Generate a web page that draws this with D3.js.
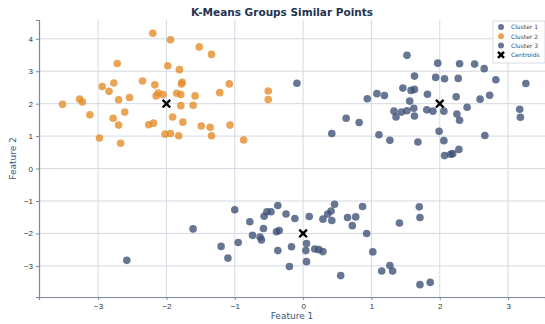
<!DOCTYPE html>
<html>
<head>
<meta charset="utf-8">
<script src="https://cdn.jsdelivr.net/npm/d3@7"></script>
<style>
  body { margin: 0; background: #fff; }
  svg { display: block; font-family: "DejaVu Sans", sans-serif; }
</style>
</head>
<body>
<div id="chart"></div>
<script>
// cluster points
var cluster1X = [-2.58, -1.61, -1.00, -1.20, -1.10, -0.95, -0.78, -0.74, -0.63, -0.61, -0.58, -0.57, -0.53, -0.47, -0.37, -0.25, -0.12, 0.09, -0.39, -0.35, -0.37, -0.17, -0.20, 0.05, 0.04, 0.05, 0.17, 0.23, 0.29, 0.29, 0.36, 0.41, 0.42, 0.46, 0.65, 0.77, 0.72, 0.87, 0.93, 1.02, 0.55, 1.15, 1.27, 1.31, 1.41, 1.70, 1.71, 1.71, 1.86];
var cluster1Y = [-2.83, -1.86, -1.27, -2.40, -2.76, -2.28, -1.64, -2.06, -2.11, -2.20, -1.85, -1.47, -1.33, -1.33, -1.14, -1.40, -1.54, -1.48, -1.95, -1.91, -2.53, -2.41, -3.02, -2.31, -2.53, -2.87, -2.48, -2.50, -2.56, -1.56, -1.40, -1.31, -1.60, -1.10, -1.51, -1.49, -1.76, -1.17, -2.00, -2.57, -3.30, -3.16, -2.99, -3.16, -1.68, -1.18, -1.51, -3.58, -3.51];

var cluster2X = [-2.20, -1.94, -1.52, -1.34, -2.72, -1.98, -1.81, -2.35, -1.77, -1.78, -2.77, -2.94, -2.17, -1.08, -2.84, -2.12, -2.05, -2.15, -1.85, -1.79, -1.58, -1.22, -0.51, -0.51, -3.27, -3.23, -2.70, -2.54, -3.52, -1.79, -1.61, -2.61, -3.12, -2.78, -1.91, -2.70, -2.26, -2.19, -1.76, -1.49, -1.36, -1.07, -2.98, -2.67, -2.02, -1.94, -1.82, -1.34, -0.87];
var cluster2Y = [4.17, 3.97, 3.75, 3.52, 3.24, 3.17, 3.05, 2.70, 2.66, 2.61, 2.64, 2.53, 2.58, 2.61, 2.38, 2.33, 2.28, 2.24, 2.32, 2.28, 2.24, 2.34, 2.39, 2.13, 2.14, 2.05, 2.12, 2.19, 1.98, 1.94, 1.95, 1.74, 1.66, 1.55, 1.59, 1.34, 1.35, 1.40, 1.43, 1.31, 1.27, 1.34, 0.94, 0.78, 1.06, 1.08, 1.01, 1.01, 0.88];

var cluster3X = [1.52, 1.97, 2.29, 2.51, 2.65, 1.63, 1.94, 2.07, 2.27, 2.82, 3.26, 1.46, 1.58, 1.63, 1.08, 1.19, 0.94, 1.82, 2.24, 2.73, 2.59, 1.56, 1.62, 1.33, 1.44, 1.52, 1.81, 1.90, 2.06, 2.40, 1.36, 1.63, 2.25, 2.29, 3.17, 3.18, 0.63, 0.82, 0.42, 1.11, 1.27, 1.68, 1.99, 2.06, 2.66, 2.07, 2.16, 2.19, 2.28, -0.09];
var cluster3Y = [3.49, 3.25, 3.23, 3.22, 3.08, 2.85, 2.81, 2.77, 2.78, 2.74, 2.62, 2.48, 2.41, 2.44, 2.31, 2.25, 2.15, 2.29, 2.21, 2.26, 2.14, 2.08, 1.86, 1.77, 1.74, 1.78, 1.81, 1.77, 1.77, 1.89, 1.59, 1.62, 1.68, 1.49, 1.83, 1.58, 1.55, 1.42, 1.08, 1.04, 0.87, 0.82, 1.15, 0.86, 1.02, 0.40, 0.44, 0.46, 0.59, 2.63];

var centroidX = [0, -2, 2];
var centroidY = [-2, 2, 2];

var xTicks = [-3, -2, -1, 0, 1, 2, 3];
var yTicks = [-3, -2, -1, 0, 1, 2, 3, 4];
var legendLabels = ["Cluster 1", "Cluster 2", "Cluster 3", "Centroids"];

var W = 545, H = 324;
var margin = {top: 20, right: 0, bottom: 27, left: 39};

var blue = "#3b5074", orange = "#e48a26";

var svg = d3.select("#chart").append("svg")
    .attr("width", W)
    .attr("height", H);

var x = d3.scaleLinear().domain([-3.865, 3.54]).range([margin.left, W - margin.right]);
var y = d3.scaleLinear().domain([-3.96, 4.58]).range([H - margin.bottom, margin.top]);

// grid
svg.append("g").selectAll("line.vg")
    .data(xTicks).enter().append("line")
    .attr("x1", d => x(d)).attr("x2", d => x(d))
    .attr("y1", margin.top).attr("y2", H - margin.bottom)
    .attr("stroke", "#d5d9e1").attr("stroke-width", 1);
svg.append("g").selectAll("line.hg")
    .data(yTicks).enter().append("line")
    .attr("x1", margin.left).attr("x2", W - margin.right)
    .attr("y1", d => y(d)).attr("y2", d => y(d))
    .attr("stroke", "#d5d9e1").attr("stroke-width", 1);

var fmt = d => d < 0 ? "\u2212" + Math.abs(d) : "" + d;

// axes
var xAxis = svg.append("g")
    .attr("transform", "translate(0," + (H - margin.bottom) + ")")
    .call(d3.axisBottom(x).tickValues(xTicks).tickFormat(fmt).tickSize(3).tickPadding(3));
var yAxis = svg.append("g")
    .attr("transform", "translate(" + margin.left + ",0)")
    .call(d3.axisLeft(y).tickValues(yTicks).tickFormat(fmt).tickSize(3).tickPadding(3));

[xAxis, yAxis].forEach(function (g) {
    g.select(".domain").attr("stroke", "#7d879c").attr("stroke-width", 1.2);
    g.selectAll(".tick line").attr("stroke", "#7d879c");
    g.selectAll(".tick text").attr("fill", "#333").style("font-size", "8px");
});

// points
function drawCluster(xs, ys, color) {
    svg.append("g").selectAll("circle")
        .data(xs.map((v, i) => [v, ys[i]]))
        .enter().append("circle")
        .attr("cx", d => x(d[0]))
        .attr("cy", d => y(d[1]))
        .attr("r", 3.8)
        .attr("fill", color)
        .attr("fill-opacity", 0.78);
}
drawCluster(cluster1X, cluster1Y, blue);
drawCluster(cluster2X, cluster2Y, orange);
drawCluster(cluster3X, cluster3Y, blue);

// centroids
function cross(g, cx, cy, s) {
    g.append("path")
        .attr("d", "M" + (cx - s) + "," + (cy - s) + "L" + (cx + s) + "," + (cy + s)
            + "M" + (cx - s) + "," + (cy + s) + "L" + (cx + s) + "," + (cy - s))
        .attr("stroke", "#000").attr("stroke-width", 2.4);
}
var cg = svg.append("g");
centroidX.forEach((cx, i) => cross(cg, x(cx), y(centroidY[i]), 3.8));

// title and labels
svg.append("text")
    .attr("x", 282).attr("y", 16)
    .attr("text-anchor", "middle")
    .attr("fill", "#1f3350")
    .style("font-size", "10.5px").style("font-weight", "bold")
    .text("K-Means Groups Similar Points");

svg.append("text")
    .attr("x", (margin.left + W - margin.right) / 2).attr("y", 319)
    .attr("text-anchor", "middle")
    .attr("fill", "#3e5278")
    .style("font-size", "9px")
    .text("Feature 1");

svg.append("text")
    .attr("transform", "translate(16," + ((margin.top + H - margin.bottom) / 2) + ") rotate(-90)")
    .attr("text-anchor", "middle")
    .attr("fill", "#3e5278")
    .style("font-size", "9px")
    .text("Feature 2");

// legend
var lg = svg.append("g").attr("transform", "translate(493,21)");
lg.append("rect")
    .attr("width", 52).attr("height", 42)
    .attr("fill", "#fff").attr("fill-opacity", 0.85)
    .attr("stroke", "#d0d4dc").attr("stroke-width", 0.8);
var legendColors = [blue, orange, blue, null];
legendLabels.forEach(function (label, i) {
    var ry = 6 + i * 9.3;
    if (legendColors[i]) {
        lg.append("circle").attr("cx", 8).attr("cy", ry).attr("r", 3)
            .attr("fill", legendColors[i]).attr("fill-opacity", 0.78);
    } else {
        cross(lg, 8, ry, 3);
    }
    lg.append("text")
        .attr("x", 18).attr("y", ry + 2.2)
        .attr("fill", "#3a4a6a")
        .style("font-size", "6px")
        .text(label);
});
</script>
</body>
</html>
